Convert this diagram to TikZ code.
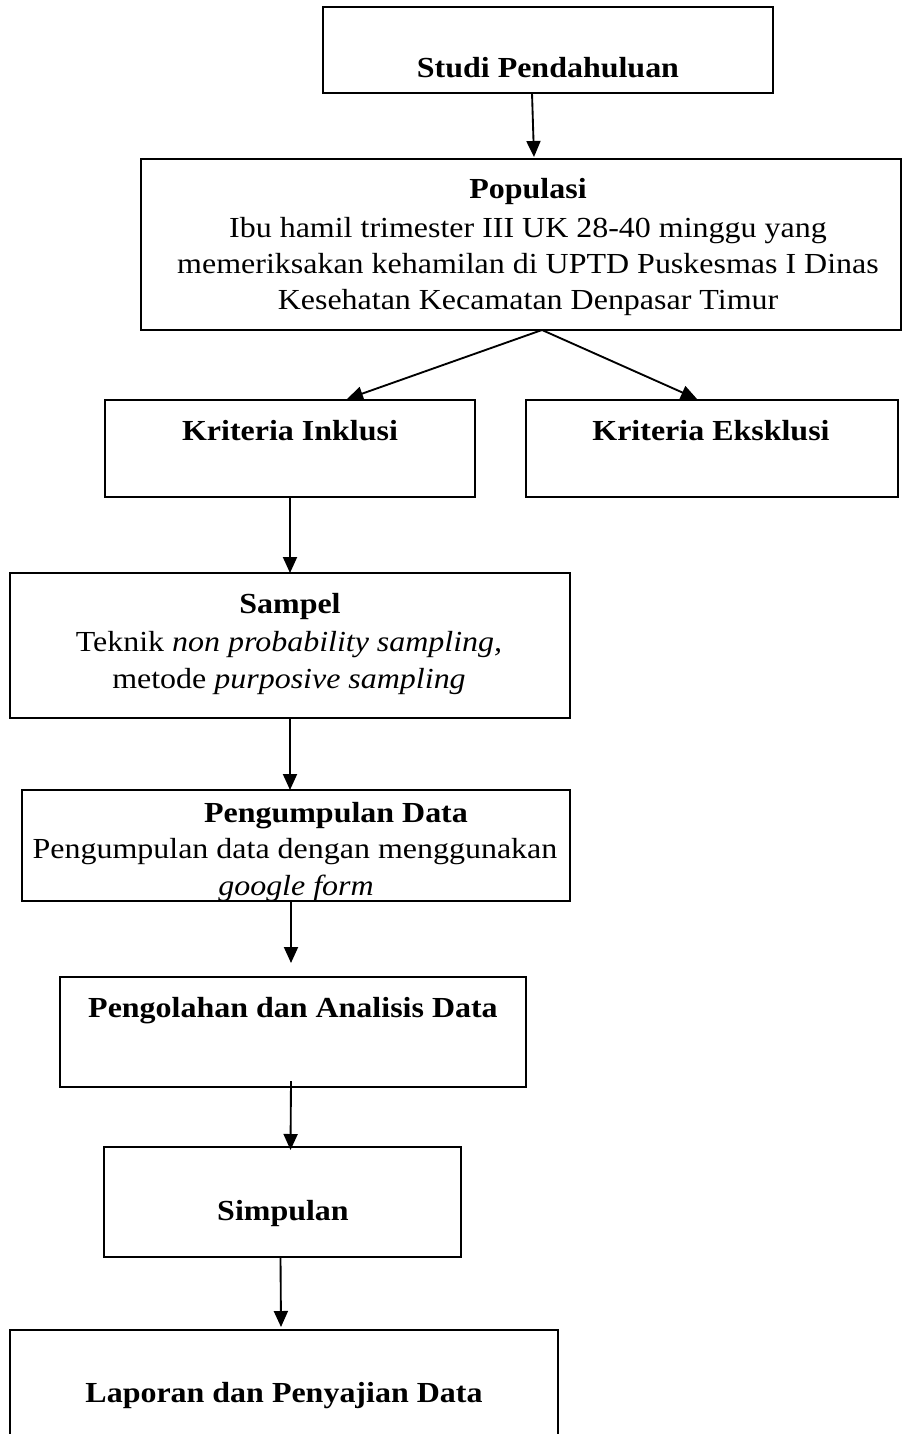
\documentclass[tikz,border=0pt]{standalone}
\usepackage{fontspec}
\setmainfont{Liberation Serif}[FakeStretch=1.1]
\usetikzlibrary{arrows.meta,calc,fit}
\begin{document}
\begin{tikzpicture}[x=0.375pt,y=-0.375pt,
  box/.style={draw,line width=0.65pt,inner sep=0pt,outer sep=0pt},
  txt/.style={anchor=base,inner sep=0pt,font=\fontsize{10.9}{12}\selectfont},
  ttl/.style={txt,font=\fontsize{10.9}{12}\selectfont\bfseries},
  arr/.style={-{Triangle[length=6pt,width=5.25pt]},line width=0.7pt}]
\useasboundingbox (0,0) rectangle (902,1434);
% boxes
\node[box,fit={(323,7) (773,93)}] (studi) {};
\node[box,fit={(141,159) (901,330)}] (pop) {};
\node[box,fit={(105,400) (475,497)}] (inkl) {};
\node[box,fit={(526,400) (898,497)}] (eksk) {};
\node[box,fit={(10,573) (570,718)}] (sampel) {};
\node[box,fit={(22,790) (570,901)}] (peng) {};
\node[box,fit={(60,977) (526,1087)}] (olah) {};
\node[box,fit={(104,1147) (461,1257)}] (simp) {};
\node[box,fit={(10,1330) (558,1445)}] (lap) {};
% texts
\node[ttl] (tstudi) at (548,78) {Studi Pendahuluan};
\node[ttl] (tpop) at (528,198) {Populasi};
\node[txt] (tpop1) at (528,237) {Ibu hamil trimester III UK 28-40 minggu yang};
\node[txt] (tpop2) at (528,273) {memeriksakan kehamilan di UPTD Puskesmas I Dinas};
\node[txt] (tpop3) at (528,309) {Kesehatan Kecamatan Denpasar Timur};
\node[ttl] (tinkl) at (290,440) {Kriteria Inklusi};
\node[ttl] (teksk) at (711,440) {Kriteria Eksklusi};
\node[ttl] (tsam) at (290,613) {Sampel};
\node[txt] (tsam1) at (289,651) {Teknik \textit{non probability sampling,}};
\node[txt] (tsam2) at (289,688) {metode \textit{purposive sampling}};
\node[ttl] (tpeng) at (336,822) {Pengumpulan Data};
\node[txt] (tpeng1) at (295,858) {Pengumpulan data dengan menggunakan};
\node[txt] (tpeng2) at (296,895) {\textit{google form}};
\node[ttl] (tolah) at (293,1017) {Pengolahan dan Analisis Data};
\node[ttl] (tsimp) at (283,1220) {Simpulan};
\node[ttl] (tlap) at (284,1402) {Laporan dan Penyajian Data};
% arrows
\draw[arr] ($(studi.south)+(-16,0)$) -- ($(pop.north)+(13,-2)$);
\draw[arr] ($(pop.south)+(21,0)$) -- ($(inkl.north)+(57,-1)$);
\draw[arr] ($(pop.south)+(21,0)$) -- ($(eksk.north)+(-15,-1)$);
\draw[arr] (inkl.south) -- (inkl.south |- sampel.north);
\draw[arr] (sampel.south) -- (sampel.south |- peng.north);
\draw[arr] ($(peng.south)+(-5,0)$) -- ($(olah.north)+(-2,-14)$);
\draw[arr] ($(olah.south)+(-2,-6)$) -- ($(simp.north)+(8,3)$);
\draw[arr] ($(simp.south)+(-2,0)$) -- ($(lap.north)+(-3,-3)$);
\end{tikzpicture}
\end{document}
